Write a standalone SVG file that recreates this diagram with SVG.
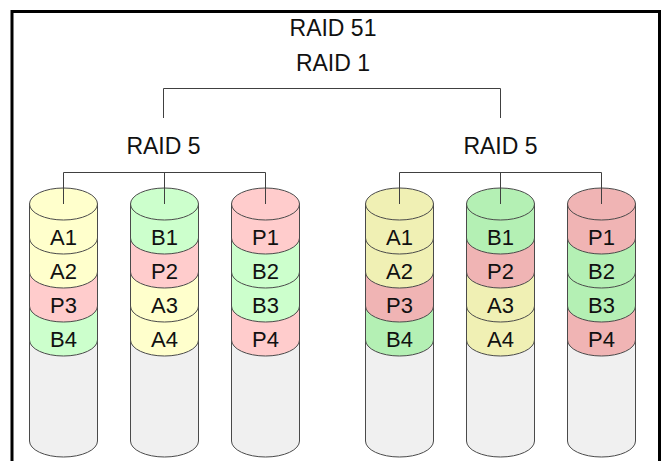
<svg xmlns="http://www.w3.org/2000/svg" xmlns:xlink="http://www.w3.org/1999/xlink" width="666" height="461" viewBox="0 0 666 461">
<style>
.t{font-family:"Liberation Sans",Arial,sans-serif;font-size:23px;fill:#111;text-anchor:middle}
.d{font-family:"Liberation Sans",Arial,sans-serif;font-size:22px;fill:#111;text-anchor:middle}
.cyl use,.cyl ellipse{stroke:#4a4a4a;stroke-width:1}
.gr{fill:#F0F0F0}
.y1{fill:#FFFFCC}.g1{fill:#CCFFCC}.p1{fill:#FFCCCC}
.y2{fill:#F0F0B4}.g2{fill:#B4F0B4}.p2{fill:#F0B4B4}
.ln{fill:none;stroke:#404040;stroke-width:1}
</style>
<defs>
<path id="gray" d="M-34,340 V441 A34,16 0 0 0 34,441 V340 Z"/>
<path id="b3" d="M-34,306 V340 A34,16 0 0 0 34,340 V306 Z"/>
<path id="b2" d="M-34,272 V306 A34,16 0 0 0 34,306 V272 Z"/>
<path id="b1" d="M-34,238 V272 A34,16 0 0 0 34,272 V238 Z"/>
<path id="b0" d="M-34,204 V238 A34,16 0 0 0 34,238 V204 Z"/>
</defs>
<rect x="12" y="11.5" width="647.5" height="470" fill="#fff" stroke="#000" stroke-width="3"/>
<text class="t" x="333" y="36">RAID 51</text>
<text class="t" x="333" y="70.5">RAID 1</text>
<text class="t" x="163.5" y="154">RAID 5</text>
<text class="t" x="500.5" y="154">RAID 5</text>
<g id="disk-L1" class="cyl" transform="translate(63.5,0)">
<use xlink:href="#gray" class="gr"/><use xlink:href="#b3" class="g1"/><use xlink:href="#b2" class="p1"/><use xlink:href="#b1" class="y1"/><use xlink:href="#b0" class="y1"/>
<ellipse cx="0" cy="204" rx="34" ry="16" class="y1"/>
<text class="d" x="0" y="245">A1</text><text class="d" x="0" y="279">A2</text><text class="d" x="0" y="313">P3</text><text class="d" x="0" y="347">B4</text>
</g>
<g id="disk-L2" class="cyl" transform="translate(164.5,0)">
<use xlink:href="#gray" class="gr"/><use xlink:href="#b3" class="y1"/><use xlink:href="#b2" class="y1"/><use xlink:href="#b1" class="p1"/><use xlink:href="#b0" class="g1"/>
<ellipse cx="0" cy="204" rx="34" ry="16" class="g1"/>
<text class="d" x="0" y="245">B1</text><text class="d" x="0" y="279">P2</text><text class="d" x="0" y="313">A3</text><text class="d" x="0" y="347">A4</text>
</g>
<g id="disk-L3" class="cyl" transform="translate(265.5,0)">
<use xlink:href="#gray" class="gr"/><use xlink:href="#b3" class="p1"/><use xlink:href="#b2" class="g1"/><use xlink:href="#b1" class="g1"/><use xlink:href="#b0" class="p1"/>
<ellipse cx="0" cy="204" rx="34" ry="16" class="p1"/>
<text class="d" x="0" y="245">P1</text><text class="d" x="0" y="279">B2</text><text class="d" x="0" y="313">B3</text><text class="d" x="0" y="347">P4</text>
</g>
<g id="disk-R1" class="cyl" transform="translate(399.5,0)">
<use xlink:href="#gray" class="gr"/><use xlink:href="#b3" class="g2"/><use xlink:href="#b2" class="p2"/><use xlink:href="#b1" class="y2"/><use xlink:href="#b0" class="y2"/>
<ellipse cx="0" cy="204" rx="34" ry="16" class="y2"/>
<text class="d" x="0" y="245">A1</text><text class="d" x="0" y="279">A2</text><text class="d" x="0" y="313">P3</text><text class="d" x="0" y="347">B4</text>
</g>
<g id="disk-R2" class="cyl" transform="translate(500.5,0)">
<use xlink:href="#gray" class="gr"/><use xlink:href="#b3" class="y2"/><use xlink:href="#b2" class="y2"/><use xlink:href="#b1" class="p2"/><use xlink:href="#b0" class="g2"/>
<ellipse cx="0" cy="204" rx="34" ry="16" class="g2"/>
<text class="d" x="0" y="245">B1</text><text class="d" x="0" y="279">P2</text><text class="d" x="0" y="313">A3</text><text class="d" x="0" y="347">A4</text>
</g>
<g id="disk-R3" class="cyl" transform="translate(601.5,0)">
<use xlink:href="#gray" class="gr"/><use xlink:href="#b3" class="p2"/><use xlink:href="#b2" class="g2"/><use xlink:href="#b1" class="g2"/><use xlink:href="#b0" class="p2"/>
<ellipse cx="0" cy="204" rx="34" ry="16" class="p2"/>
<text class="d" x="0" y="245">P1</text><text class="d" x="0" y="279">B2</text><text class="d" x="0" y="313">B3</text><text class="d" x="0" y="347">P4</text>
</g>
<g id="connectors" class="ln">
<path d="M163.5,118 V88.5 H500.5 V118"/>
<path d="M63.5,204 V172.5 H265.5 V204 M164.5,172.5 V204"/>
<path d="M399.5,204 V172.5 H601.5 V204 M500.5,172.5 V204"/>
</g>
</svg>
